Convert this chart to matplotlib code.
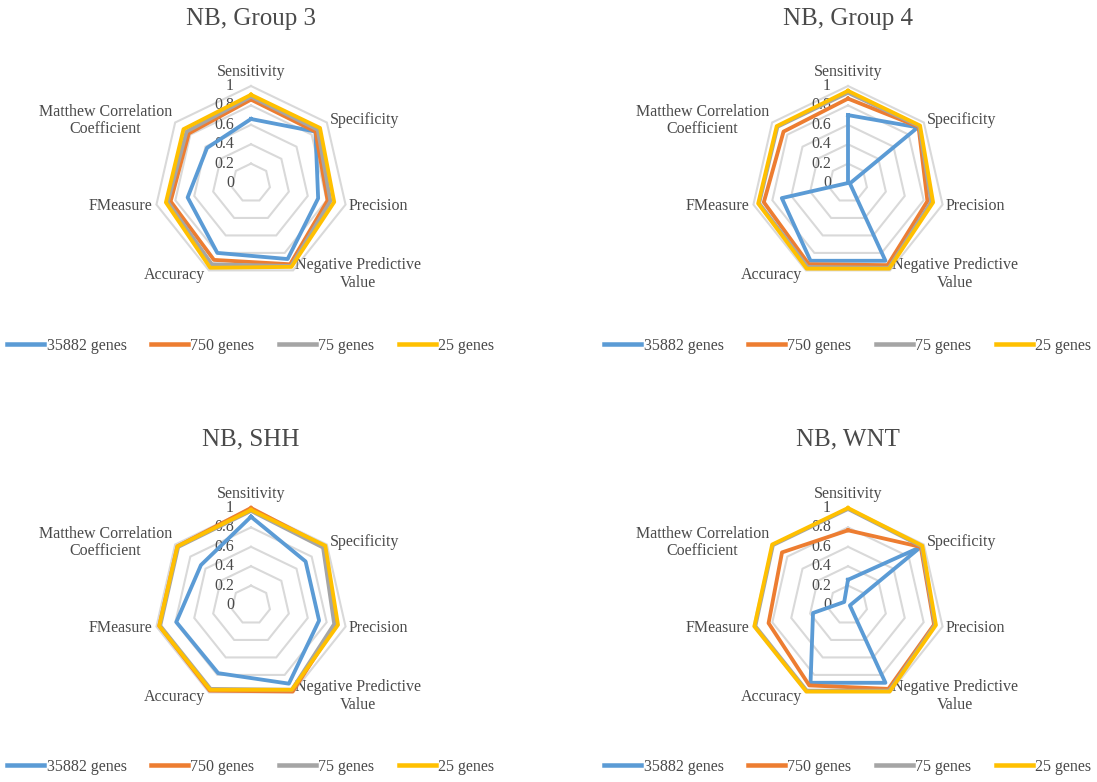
import numpy as np
import matplotlib.pyplot as plt

# ----------------------------
# Data
# ----------------------------
METRICS = ["Sensitivity", "Specificity", "Precision",
           "Negative Predictive\nValue", "Accuracy", "FMeasure",
           "Matthew Correlation\nCoefficient"]
SERIES = ["35882 genes", "750 genes", "75 genes", "25 genes"]
TITLES = ["NB, Group 3", "NB, Group 4", "NB, SHH", "NB, WNT"]
TICKS = [0, 0.2, 0.4, 0.6, 0.8, 1]

group3_35882 = [0.66, 0.85, 0.71, 0.87, 0.80, 0.67, 0.58]
group3_750 = [0.86, 0.85, 0.81, 0.93, 0.88, 0.85, 0.82]
group3_75 = [0.89, 0.88, 0.84, 0.95, 0.93, 0.88, 0.85]
group3_25 = [0.91, 0.91, 0.88, 0.96, 0.97, 0.90, 0.89]

group4_35882 = [0.70, 0.92, 0.02, 0.89, 0.89, 0.70, 0.00]
group4_750 = [0.87, 0.93, 0.84, 0.94, 0.93, 0.89, 0.85]
group4_75 = [0.93, 0.94, 0.88, 0.97, 0.96, 0.94, 0.93]
group4_25 = [0.95, 0.95, 0.90, 0.98, 0.98, 0.95, 0.94]

shh_35882 = [0.91, 0.72, 0.72, 0.90, 0.78, 0.79, 0.66]
shh_750 = [1.00, 0.97, 0.90, 0.99, 0.98, 0.97, 0.97]
shh_75 = [0.97, 0.95, 0.88, 0.97, 0.96, 0.96, 0.96]
shh_25 = [0.98, 0.98, 0.92, 0.97, 0.97, 0.97, 0.97]

wnt_35882 = [0.26, 0.96, 0.02, 0.89, 0.89, 0.37, 0.05]
wnt_750 = [0.77, 0.96, 0.91, 0.96, 0.92, 0.84, 0.87]
wnt_75 = [0.99, 0.97, 0.92, 0.98, 0.98, 0.98, 0.99]
wnt_25 = [1.00, 0.98, 0.93, 0.99, 0.99, 0.99, 1.00]

PANELS = [
    [group3_35882, group3_750, group3_75, group3_25],
    [group4_35882, group4_750, group4_75, group4_25],
    [shh_35882, shh_750, shh_75, shh_25],
    [wnt_35882, wnt_750, wnt_75, wnt_25],
]

# ----------------------------
# Look
# ----------------------------
W, H = 1097, 782
DPI = 100
FONT = "Liberation Serif"
TEXT_COLOR = "#4a4a4a"
COLORS = ["#5B9BD5", "#ED7D31", "#A5A5A5", "#FFC000"]
GRID_COLOR = "#D9D9D9"
GRID_WIDTH = 1.5
LINE_WIDTH = 2.75
RADIUS_PX = 97
CENTERS = [(251, 183), (848, 183), (251, 605), (848, 605)]
TITLE_Y = [19, 19, 439, 439]
LEGEND_Y = [346, 346, 767, 767]

# label offsets (pixels) from each vertex, and alignment
LABEL_POS = [
    ((0, 14), "center", "center"),
    ((3, 3), "left", "center"),
    ((3, -1), "left", "center"),
    ((2, 13), "left", "top"),
    ((-4, -5), "right", "center"),
    ((-4, -1), "right", "center"),
    ((-3, 2), "right", "center"),
]

plt.rcParams['font.family'] = [FONT, 'DejaVu Serif']

fig = plt.figure(figsize=(W / DPI, H / DPI), dpi=DPI)
n = len(METRICS)
angles = np.arange(n) * 2 * np.pi / n
closed = np.append(angles, angles[0])

for p, values in enumerate(PANELS):
    cx, cy = CENTERS[p]
    rect = [(cx - RADIUS_PX) / W, (H - cy - RADIUS_PX) / H,
            2 * RADIUS_PX / W, 2 * RADIUS_PX / H]
    ax = fig.add_axes(rect, projection='polar')
    ax.set_theta_offset(np.pi / 2)
    ax.set_theta_direction(-1)
    ax.set_ylim(0, 1)
    ax.grid(False)
    ax.spines['polar'].set_visible(False)
    ax.set_xticks([])
    ax.set_yticks([])
    ax.patch.set_alpha(0)

    # heptagon grid
    for t in TICKS[1:]:
        ax.plot(closed, [t] * (n + 1), color=GRID_COLOR, lw=GRID_WIDTH,
                solid_joinstyle='miter', clip_on=False, zorder=1)

    # tick labels
    for t in TICKS:
        ax.annotate(f"{t:g}", (0, t), xytext=(-17, 0), textcoords='offset pixels',
                    ha='right', va='center', fontsize=11.5, color=TEXT_COLOR,
                    annotation_clip=False, zorder=2)

    # series
    for s, vals in enumerate(values):
        ax.plot(closed, vals + vals[:1], color=COLORS[s], lw=LINE_WIDTH,
                solid_joinstyle='round', clip_on=False, zorder=3 + s,
                label=SERIES[s])

    # category labels
    for k, name in enumerate(METRICS):
        off, ha, va = LABEL_POS[k]
        ax.annotate(name, (angles[k], 1.0), xytext=off, textcoords='offset pixels',
                    ha=ha, va=va, multialignment='center', fontsize=11.5,
                    color=TEXT_COLOR, annotation_clip=False, linespacing=1.15)

    fig.text(cx / W, 1 - TITLE_Y[p] / H, TITLES[p], ha='center', va='center',
             fontsize=18, color=TEXT_COLOR)

    handles, labels = ax.get_legend_handles_labels()
    leg = fig.legend(handles, labels, loc='center', ncol=4,
                     bbox_to_anchor=(cx / W, 1 - LEGEND_Y[p] / H),
                     frameon=False, fontsize=11.5, handlelength=2.3,
                     handletextpad=0.15, columnspacing=1.55)
    for line in leg.get_lines():
        line.set_linewidth(3.25)
    for txt in leg.get_texts():
        txt.set_color(TEXT_COLOR)

fig.savefig("out.png", dpi=DPI)
